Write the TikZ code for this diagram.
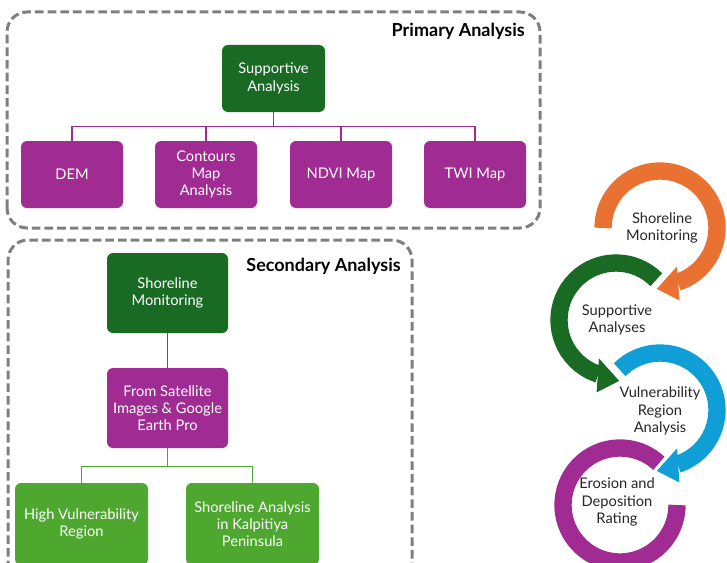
\documentclass[tikz,border=0pt]{standalone}
\usepackage{fontspec}
\setmainfont{Lato}
\definecolor{darkgreen}{HTML}{196B24}
\definecolor{plum}{HTML}{A02B93}
\definecolor{leafgreen}{HTML}{4EA72E}
\definecolor{sunset}{HTML}{E97132}
\definecolor{skyblue}{HTML}{0F9ED5}
\definecolor{framegray}{HTML}{7F7F7F}
\definecolor{inkgray}{HTML}{262626}

\begin{document}
\begin{tikzpicture}[x=0.75pt, y=0.75pt,
    boxnode/.style={rounded corners=4.5pt, text=white, align=center, inner sep=2pt, font=\fontsize{11}{13}\selectfont},
    darknode/.style={boxnode, fill=darkgreen},
    mapnode/.style={boxnode, fill=plum, minimum width=76.5pt, minimum height=50.25pt},
    leafnode/.style={boxnode, fill=leafgreen, minimum width=99.75pt, minimum height=61.5pt},
    framebox/.style={draw=framegray, line width=2.25pt, dash pattern=on 6.5pt off 3pt, rounded corners=15pt},
    titletext/.style={anchor=east, inner sep=0pt, font=\bfseries\fontsize{13.5}{16}\selectfont},
    ringtext/.style={align=center, text=inkgray, font=\fontsize{11}{13}\selectfont},
    ring/.style={line width=13pt},
    ]
    \useasboundingbox (0,0) rectangle (727,562);
    \clip (0,0) rectangle (727,562);

    % primary analysis
    \draw[framebox] (7,334) rectangle (540,550);
    \node[titletext] (primtitle) at (525,531) {Primary Analysis};
    \node[darknode, minimum width=77.25pt, minimum height=50.25pt] (sup) at (273.5,483.5) {Supportive\\Analysis};

    \node[mapnode] (dem) at (72,387.5) {DEM};
    \node[mapnode] (cont) at (206,387.5) {Contours\\Map\\Analysis};
    \node[mapnode] (ndvi) at (341,387.5) {NDVI Map};
    \node[mapnode] (twi) at (475,387.5) {TWI Map};

    \draw[plum, line width=1pt] (sup.south) -- ++(0,-14) -| (dem.north);
    \draw[plum, line width=1pt] (sup.south) -- ++(0,-14) -| (cont.north);
    \draw[plum, line width=1pt] (sup.south) -- ++(0,-14) -| (ndvi.north);
    \draw[plum, line width=1pt] (sup.south) -- ++(0,-14) -| (twi.north);

    % secondary analysis
    \draw[framebox] (8,-40) rectangle (412,322);
    \node[titletext] (sectitle) at (401,296) {Secondary Analysis};
    \node[darknode, minimum width=90.75pt, minimum height=60pt] (mon) at (167.5,269) {Shoreline\\Monitoring};
    \node[boxnode, fill=plum, minimum width=90.75pt, minimum height=60pt] (sat) at (167.5,154) {From Satellite\\Images \& Google\\Earth Pro};

    \node[leafnode] (high) at (81.5,38) {High Vulnerability\\Region};
    \node[leafnode] (kalp) at (252.5,38) {Shoreline Analysis\\in Kalpitiya\\Peninsula};

    \draw[plum, line width=1pt] (mon) edge (sat);
    \draw[leafgreen, line width=1pt] (sat.south) -- ++(0,-18) -| (high.north);
    \draw[leafgreen, line width=1pt] (sat.south) -- ++(0,-18) -| (kalp.north);

    % cycle of ring arrows
    \begin{scope}[shift={(660,334)}]
      \draw[ring, sunset] (180:57) arc[start angle=180, end angle=-72, radius=57];
      \fill[sunset] (-66:42) -- (-75:75) -- (-93:61) -- cycle;
      \node[ringtext] (ring1) at (2,0) {Shoreline\\Monitoring};
    \end{scope}
    \begin{scope}[shift={(616,242)}]
      \draw[ring, darkgreen] (45:57) arc[start angle=45, end angle=252, radius=57];
      \fill[darkgreen] (246:42) -- (255:75) -- (273:61) -- cycle;
      \node[ringtext] (ring2) at (1,0) {Supportive\\Analyses};
    \end{scope}
    \begin{scope}[shift={(660,152)}]
      \draw[ring, skyblue] (135:57) arc[start angle=135, end angle=-72, radius=57];
      \fill[skyblue] (-66:42) -- (-75:75) -- (-93:61) -- cycle;
      \node[ringtext] (ring3) at (0,-1) {Vulnerability\\Region\\Analysis};
    \end{scope}
    \begin{scope}[shift={(620,57)}]
      \draw[ring, plum] (47:57) arc[start angle=47, end angle=360, radius=57];
      \node[ringtext] (ring4) at (-3,3) {Erosion and\\Deposition\\Rating};
    \end{scope}
\end{tikzpicture}
\end{document}
